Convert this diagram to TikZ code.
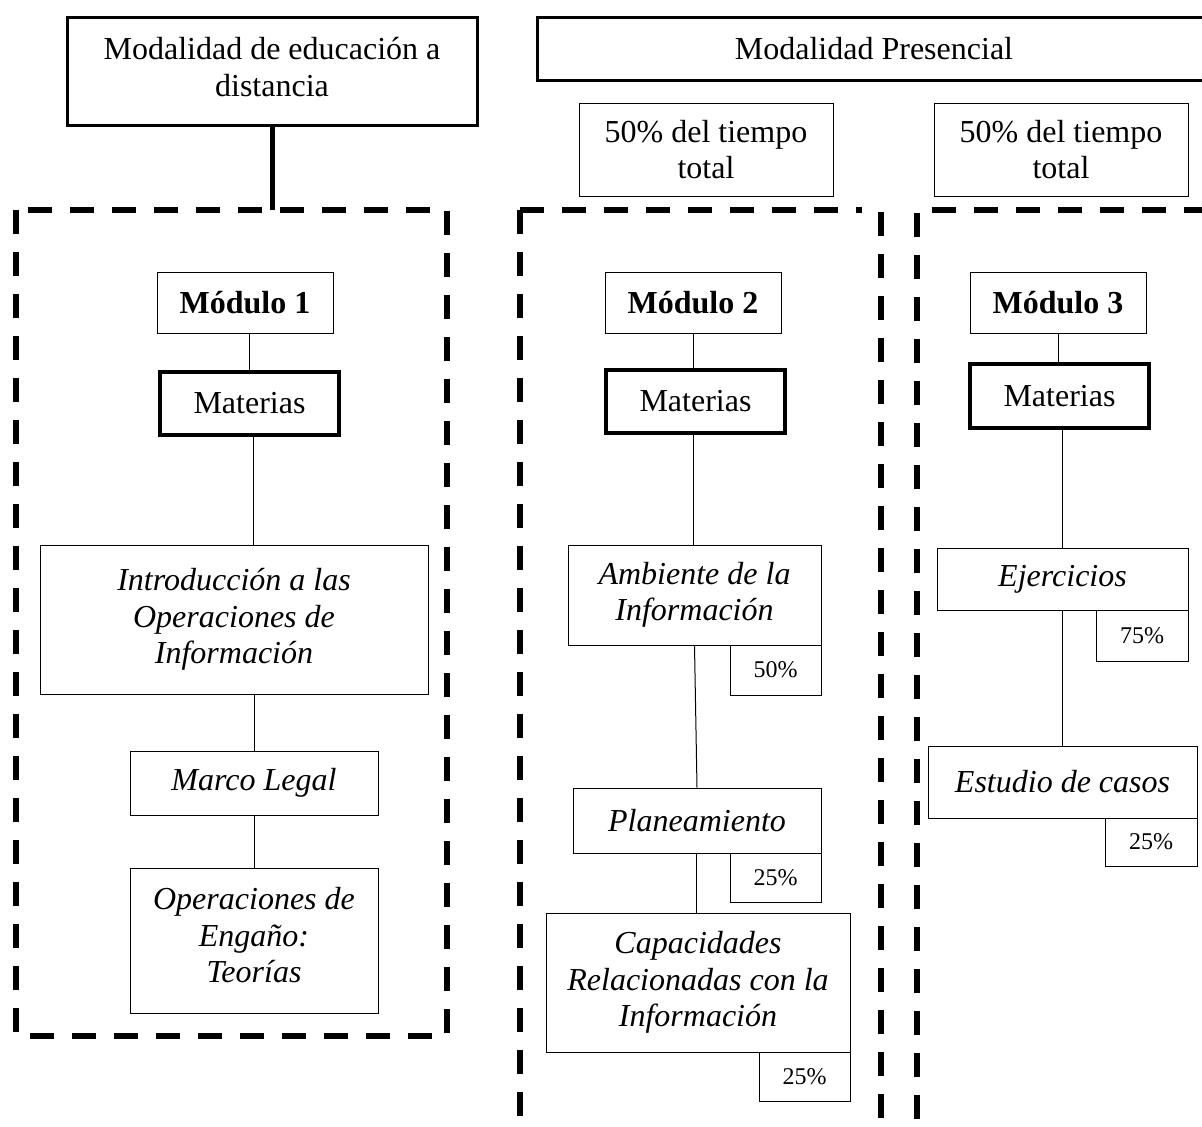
\documentclass[tikz,border=0pt]{standalone}
\usepackage{fontspec}
\setmainfont{Liberation Serif}
\newcommand{\lowstrut}[1]{\rule[-#1]{0pt}{0pt}}
\tikzset{
  base/.style={draw, inner sep=0pt, align=center, line width=1pt, font=\fontsize{32}{36.5}\selectfont},
  topbox/.style={base, line width=3pt},
  matbox/.style={base, line width=4.5pt},
  itbox/.style={base, font=\fontsize{32}{36.5}\selectfont\itshape},
  pct/.style={base, font=\fontsize{24}{28}\selectfont},
  link/.style={line width=1pt},
  thicklink/.style={line width=5pt},
  dashbox/.style={line width=5.5pt, dash pattern=on 24pt off 18pt},
}
\begin{document}
\begin{tikzpicture}[x=1pt, y=-1pt]
\useasboundingbox (0,0) rectangle (1202,1127);
\clip (0,0) rectangle (1202,1127);
\fill[white] (0,0) rectangle (1202,1127);

% top boxes
\node[topbox, minimum width=410pt, minimum height=108pt] (dist) at (272,71) {Modalidad de educación a\\distancia\lowstrut{8.5pt}};
\node[topbox, minimum width=674pt, minimum height=63pt] (pres) at (874,48.5) {Modalidad Presencial};
\node[base, minimum width=254pt, minimum height=93pt] (t1) at (706,149.5) {50\% del tiempo\\total};
\node[base, minimum width=254pt, minimum height=93pt] (t2) at (1061,149.5) {50\% del tiempo\\total};

% dashed frames
\draw[dashbox] (16,210) rectangle (447,1036);
\draw[dashbox] (520,210) -- (520,1140);
\draw[dashbox] (520,210) -- (862,210);
\draw[dashbox] (881,212) -- (881,1140);
\draw[dashbox] (917,213) -- (917,1140);
\draw[dashbox] (932,210) -- (1215,210);

\coordinate (d1) at (272,210);
\draw[thicklink] (dist.south) -- (d1);

% module 1
\node[base, minimum width=176pt, minimum height=61pt] (m1) at (245,302.5) {\textbf{Módulo 1}};
\node[matbox, minimum width=179pt, minimum height=63pt] (mat1) at (249.5,403.5) {Materias};
\node[itbox, minimum width=388pt, minimum height=149pt] (intro) at (234,619.5) {Introducción a las\\Operaciones de\\Información\lowstrut{6.5pt}};
\node[itbox, minimum width=248pt, minimum height=64pt] (marco) at (254,783) {Marco Legal};
\node[itbox, minimum width=248pt, minimum height=145pt] (oper) at (254,940.5) {Operaciones de\\Engaño:\\Teorías\lowstrut{10.5pt}};

\draw[link] (mat1.north) -- (mat1.north |- m1.south);
\draw[link] ([xshift=4pt]mat1.south) -- ([xshift=4pt]mat1.south |- intro.north);
\draw[link] (marco.north) -- (marco.north |- intro.south);
\draw[link] (marco.south) -- (oper.north);

% module 2
\node[base, minimum width=176pt, minimum height=61pt] (m2) at (693,302.5) {\textbf{Módulo 2}};
\node[matbox, minimum width=179pt, minimum height=63pt] (mat2) at (695.5,401.5) {Materias};
\node[itbox, minimum width=253pt, minimum height=100pt] (amb) at (694.5,595) {Ambiente de la\\Información};
\node[pct, minimum width=91pt, minimum height=50pt] (p50) at (775.5,670) {50\%};
\node[itbox, minimum width=248pt, minimum height=65pt] (plan) at (697,820.5) {Planeamiento};
\node[pct, minimum width=91pt, minimum height=49pt] (p25a) at (775.5,877.5) {25\%};
\node[itbox, minimum width=304pt, minimum height=139pt] (cap) at (698,982.5) {Capacidades\\Relacionadas con la\\Información};
\node[pct, minimum width=91pt, minimum height=49pt] (p25b) at (804.5,1076.5) {25\%};

\draw[link] (m2.south) -- (m2.south |- mat2.north);
\draw[link] (m2.south |- mat2.south) -- (m2.south |- amb.north);
\draw[link] (amb.south) -- (plan.north);
\draw[link] ([xshift=-1pt]plan.south) -- ([xshift=-1pt]plan.south |- cap.north);

% module 3
\node[base, minimum width=176pt, minimum height=61pt] (m3) at (1058,302.5) {\textbf{Módulo 3}};
\node[matbox, minimum width=179pt, minimum height=64pt] (mat3) at (1059.5,396) {Materias};
\node[itbox, minimum width=251pt, minimum height=62pt] (ejer) at (1062.5,579) {Ejercicios};
\node[pct, minimum width=92pt, minimum height=51pt] (p75) at (1142,635.5) {75\%};
\node[itbox, minimum width=269pt, minimum height=72pt] (est) at (1062.5,782) {Estudio de casos};
\node[pct, minimum width=92pt, minimum height=48pt] (p25c) at (1151,842) {25\%};

\draw[link] (m3.south) -- (m3.south |- mat3.north);
\draw[link] (ejer.north) -- (ejer.north |- mat3.south);
\draw[link] (ejer.south) -- (est.north);
\end{tikzpicture}
\end{document}
